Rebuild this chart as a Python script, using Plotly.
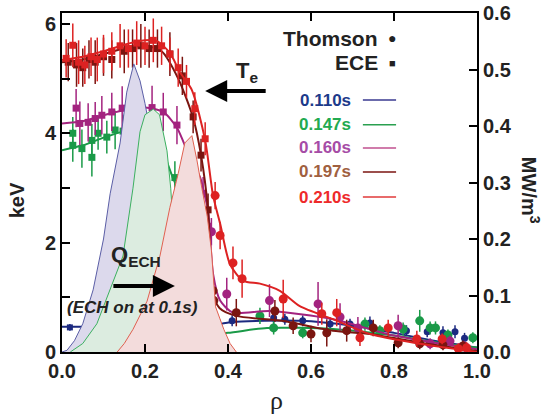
import plotly.graph_objects as go

# ECH power deposition (right axis, MW/m^3)
q110_rho = [0.0, 0.012, 0.03, 0.05, 0.075, 0.10, 0.116, 0.14, 0.156, 0.173, 0.188, 0.20, 0.215, 0.24, 0.27, 0.30, 0.32]
q110_val = [0.0, 0.003, 0.02, 0.05, 0.11, 0.20, 0.28, 0.37, 0.46, 0.51, 0.48, 0.44, 0.38, 0.25, 0.10, 0.02, 0.0]
q147_rho = [0.02, 0.05, 0.084, 0.116, 0.147, 0.171, 0.188, 0.20, 0.22, 0.235, 0.253, 0.262, 0.27, 0.29, 0.31, 0.33]
q147_val = [0.0, 0.015, 0.05, 0.11, 0.17, 0.29, 0.39, 0.42, 0.43, 0.42, 0.356, 0.29, 0.20, 0.10, 0.03, 0.0]
q210_rho = [0.133, 0.15, 0.171, 0.205, 0.236, 0.26, 0.28, 0.296, 0.313, 0.325, 0.337, 0.35, 0.36, 0.365, 0.37, 0.38, 0.39, 0.405, 0.42]
q210_val = [0.0, 0.015, 0.04, 0.09, 0.17, 0.256, 0.316, 0.37, 0.383, 0.34, 0.29, 0.24, 0.18, 0.12, 0.08, 0.06, 0.04, 0.015, 0.0]

# fitted Te profiles (keV)
fit110_rho = [0.0, 0.2, 0.35, 0.41, 0.573, 0.7, 0.8, 0.9, 1.0]
fit110_te = [0.46, 0.46, 0.47, 0.55, 0.57, 0.48, 0.35, 0.2, 0.08]
fit147_rho = [0.0, 0.05, 0.1, 0.15, 0.19, 0.217, 0.236, 0.268, 0.29, 0.303, 0.316, 0.337, 0.345, 0.4, 0.494, 0.653, 0.8, 0.9, 1.0]
fit147_te = [3.69, 3.78, 3.92, 4.04, 4.09, 3.93, 3.78, 3.17, 2.77, 2.35, 1.3, 0.51, 0.33, 0.35, 0.44, 0.42, 0.3, 0.18, 0.08]
fit160_rho = [0.0, 0.05, 0.1, 0.15, 0.2, 0.244, 0.277, 0.308, 0.333, 0.345, 0.352, 0.364, 0.381, 0.412, 0.5, 0.653, 0.8, 1.0]
fit160_te = [4.18, 4.22, 4.33, 4.42, 4.47, 4.39, 4.1, 3.56, 3.19, 2.83, 2.59, 1.43, 0.94, 0.72, 0.75, 0.6, 0.3, 0.05]
fit197_rho = [0.0, 0.05, 0.1, 0.15, 0.2, 0.24, 0.28, 0.316, 0.335, 0.352, 0.364, 0.38, 0.42, 0.53, 0.653, 0.742, 0.863, 1.0]
fit197_te = [5.3, 5.35, 5.45, 5.55, 5.6, 5.5, 5.0, 4.28, 3.6, 2.6, 1.06, 0.8, 0.66, 0.57, 0.39, 0.33, 0.17, 0.02]
fit210_rho = [0.0, 0.05, 0.1, 0.15, 0.2, 0.228, 0.26, 0.284, 0.313, 0.345, 0.364, 0.381, 0.405, 0.437, 0.477, 0.525, 0.573, 0.653, 0.742, 0.863, 1.0]
fit210_te = [5.34, 5.4, 5.5, 5.62, 5.7, 5.69, 5.47, 5.12, 4.79, 3.87, 2.86, 2.35, 1.6, 1.3, 1.25, 1.12, 0.84, 0.6, 0.33, 0.15, 0.0]

# ECE (squares)
ece110_rho = [0.019, 0.06, 0.08, 0.1, 0.12, 0.14, 0.16, 0.183, 0.207, 0.229, 0.253, 0.273, 0.296, 0.325, 0.349]
ece110_te = [0.45, 0.45, 0.47, 0.47, 0.48, 0.47, 0.46, 0.45, 0.45, 0.46, 0.45, 0.46, 0.47, 0.47, 0.47]
ece110_err = [0.06, 0.05, 0.06, 0.06, 0.06, 0.05, 0.06, 0.05, 0.05, 0.05, 0.05, 0.05, 0.06, 0.06, 0.06]
ece147_rho = [0.026, 0.026, 0.048, 0.072, 0.072, 0.087, 0.108, 0.128, 0.147, 0.171, 0.193, 0.217, 0.24, 0.272, 0.308, 0.31]
ece147_te = [4.0, 3.78, 3.72, 3.87, 3.56, 4.0, 3.93, 4.06, 4.04, 4.06, 4.02, 3.93, 3.78, 3.19, 2.35, 2.18]
ece147_err = [0.3, 0.3, 0.35, 0.3, 0.35, 0.3, 0.3, 0.35, 0.3, 0.3, 0.35, 0.3, 0.3, 0.3, 0.25, 0.25]
ece160_rho = [0.034, 0.043, 0.063, 0.08, 0.096, 0.12, 0.145, 0.168, 0.188, 0.217, 0.244, 0.277, 0.313, 0.34, 0.352]
ece160_te = [4.46, 4.18, 4.2, 4.27, 4.33, 4.39, 4.46, 4.44, 4.42, 4.47, 4.39, 4.15, 3.52, 2.9, 2.3]
ece160_err = [0.35, 0.4, 0.35, 0.3, 0.35, 0.35, 0.4, 0.35, 0.35, 0.4, 0.35, 0.35, 0.3, 0.3, 0.25]
ece197_rho = [0.015, 0.035, 0.05, 0.065, 0.08, 0.1, 0.12, 0.15, 0.17, 0.19, 0.21, 0.23, 0.26, 0.29, 0.316, 0.335, 0.352]
ece197_te = [5.3, 5.25, 5.2, 5.35, 5.3, 5.4, 5.35, 5.5, 5.55, 5.6, 5.55, 5.55, 5.45, 5.05, 4.3, 3.6, 2.6]
ece197_err = [0.35, 0.4, 0.35, 0.35, 0.4, 0.35, 0.35, 0.4, 0.35, 0.4, 0.35, 0.35, 0.4, 0.35, 0.3, 0.3, 0.3]
ece210_rho = [0.01, 0.026, 0.04, 0.055, 0.07, 0.085, 0.1, 0.12, 0.14, 0.16, 0.18, 0.2, 0.22, 0.24, 0.26, 0.28, 0.3, 0.32, 0.345]
ece210_te = [5.37, 5.61, 5.3, 5.25, 5.4, 5.35, 5.45, 5.5, 5.6, 5.55, 5.65, 5.6, 5.7, 5.6, 5.45, 5.2, 4.95, 4.45, 3.9]
ece210_err = [0.35, 0.4, 0.4, 0.35, 0.35, 0.4, 0.35, 0.35, 0.4, 0.35, 0.4, 0.35, 0.4, 0.35, 0.3, 0.35, 0.3, 0.3, 0.3]

# Thomson (circles)
ts110_rho = [0.375, 0.41, 0.51, 0.537, 0.58, 0.646, 0.694, 0.742, 0.83, 0.88, 0.918, 0.947, 0.97]
ts110_te = [0.55, 0.57, 0.62, 0.6, 0.57, 0.51, 0.51, 0.53, 0.39, 0.37, 0.35, 0.37, 0.25]
ts110_err = [0.1, 0.1, 0.12, 0.1, 0.1, 0.12, 0.1, 0.12, 0.1, 0.1, 0.12, 0.12, 0.1]
ts147_rho = [0.342, 0.477, 0.51, 0.58, 0.73, 0.766, 0.822, 0.862, 0.887, 0.9, 0.93, 0.99]
ts147_te = [0.51, 0.66, 0.44, 0.35, 0.51, 0.39, 0.42, 0.57, 0.44, 0.44, 0.31, 0.26]
ts147_err = [0.1, 0.15, 0.12, 0.1, 0.12, 0.1, 0.12, 0.2, 0.12, 0.12, 0.1, 0.1]
ts160_rho = [0.36, 0.397, 0.5, 0.617, 0.67, 0.713, 0.81, 0.887, 0.935, 0.97]
ts160_te = [2.2, 1.06, 0.94, 0.88, 0.64, 0.44, 0.48, 0.15, 0.2, 0.1]
ts160_err = [0.25, 0.3, 0.3, 0.4, 0.25, 0.2, 0.2, 0.1, 0.1, 0.1]
ts197_rho = [0.364, 0.366, 0.42, 0.513, 0.557, 0.6, 0.638, 0.686, 0.75, 0.81, 0.862, 0.918, 0.966]
ts197_te = [1.12, 0.94, 0.72, 0.75, 0.48, 0.33, 0.35, 0.39, 0.44, 0.17, 0.15, 0.13, 0.11]
ts197_err = [0.2, 0.2, 0.25, 0.2, 0.15, 0.15, 0.25, 0.2, 0.15, 0.1, 0.1, 0.1, 0.1]
ts210_rho = [0.369, 0.381, 0.412, 0.434, 0.533, 0.626, 0.662, 0.718, 0.786, 0.855, 0.916, 0.955, 0.975]
ts210_te = [2.86, 2.13, 1.63, 1.34, 0.97, 0.7, 0.72, 0.26, 0.44, 0.24, 0.24, 0.06, 0.08]
ts210_err = [0.25, 0.25, 0.3, 0.35, 0.35, 0.2, 0.25, 0.15, 0.15, 0.15, 0.1, 0.1, 0.1]

times = ["0.110s", "0.147s", "0.160s", "0.197s", "0.210s"]
cols = ["#1c2a80", "#1a9a48", "#a3237f", "#7b1510", "#dd2222"]
text_cols = ["#1c3a8a", "#22aa50", "#a64ca6", "#a0603f", "#ee2a2a"]
leg_cols = ["#3a3a90", "#2aa050", "#c0508f", "#7b1510", "#e03a3a"]

fig = go.Figure()

# shaded Q_ECH profiles
for r, q, fc, lc in [(q110_rho, q110_val, "#dcd9ec", "#5b5ea6"),
                     (q147_rho, q147_val, "#dcece0", "#3cb060"),
                     (q210_rho, q210_val, "#f3dcdc", "#e06050")]:
    fig.add_trace(go.Scatter(x=r, y=q, yaxis="y2", mode="lines", fill="tozeroy",
                             fillcolor=fc, line=dict(color=lc, width=1), showlegend=False))

fits = [(fit110_rho, fit110_te), (fit147_rho, fit147_te), (fit160_rho, fit160_te),
        (fit197_rho, fit197_te), (fit210_rho, fit210_te)]
eces = [(ece110_rho, ece110_te, ece110_err), (ece147_rho, ece147_te, ece147_err),
        (ece160_rho, ece160_te, ece160_err), (ece197_rho, ece197_te, ece197_err),
        (ece210_rho, ece210_te, ece210_err)]
tss = [(ts110_rho, ts110_te, ts110_err), (ts147_rho, ts147_te, ts147_err),
       (ts160_rho, ts160_te, ts160_err), (ts197_rho, ts197_te, ts197_err),
       (ts210_rho, ts210_te, ts210_err)]

for i in range(5):
    c = cols[i]
    er, et, ee = eces[i]
    tr, tt, te = tss[i]
    msz = 6 if i == 0 else 7
    fig.add_trace(go.Scatter(x=er, y=et, mode="markers", showlegend=False,
                             marker=dict(symbol="square", size=msz, color=c),
                             error_y=dict(type="data", array=ee, color=c, thickness=1.5, width=0)))
    fig.add_trace(go.Scatter(x=tr, y=tt, mode="markers", showlegend=False,
                             marker=dict(symbol="circle", size=9 if i else 7, color=c),
                             error_y=dict(type="data", array=te, color=c, thickness=1.5, width=0)))
    fr, ft = fits[i]
    fig.add_trace(go.Scatter(x=fr, y=ft, mode="lines", showlegend=False,
                             line=dict(color=c, width=2, shape="spline", smoothing=0.7)))

bold = "Liberation Sans, Arial, sans-serif"
ax_common = dict(showline=True, linecolor="black", linewidth=2, ticks="inside",
                 tickcolor="black", tickwidth=1.5, ticklen=8, showgrid=False, zeroline=False,
                 automargin=False, ticklabeloverflow="allow",
                 tickfont=dict(family=bold, size=20, color="#222"))

fig.update_layout(
    width=546, height=415,
    margin=dict(l=62, r=69, t=13, b=63, autoexpand=False),
    plot_bgcolor="white", paper_bgcolor="white",
    showlegend=False,
    xaxis=dict(range=[0, 1], tickvals=[0, 0.2, 0.4, 0.6, 0.8, 1.0],
               ticktext=["<b>0.0</b>", "<b>0.2</b>", "<b>0.4</b>", "<b>0.6</b>", "<b>0.8</b>", "<b>1.0</b>"],
               mirror="ticks", **ax_common),
    yaxis=dict(range=[0, 6.2], tickvals=[0, 2, 4, 6],
               ticktext=["<b>0</b>", "<b>2</b>", "<b>4</b>", "<b>6</b>"],
               minor=dict(dtick=1, ticks="inside", ticklen=8, tickcolor="black", tickwidth=1.5),
               **ax_common),
    yaxis2=dict(range=[0, 0.6001], overlaying="y", side="right",
                tickvals=[0, 0.1, 0.2, 0.3, 0.4, 0.5, 0.6],
                ticktext=["<b>0.0</b>", "<b>0.1</b>", "<b>0.2</b>", "<b>0.3</b>", "<b>0.4</b>", "<b>0.5</b>", "<b>0.6</b>"],
                **ax_common),
)

ann = []
def label(x, y, text, size, color="#222", xanchor="center", angle=0, family=bold):
    ann.append(dict(xref="paper", yref="paper", x=x, y=y, text=text, showarrow=False,
                    xanchor=xanchor, yanchor="middle", textangle=angle,
                    font=dict(family=family, size=size, color=color)))

label(-0.108, 0.448, "<b>keV</b>", 20, angle=-90)
label(1.128, 0.478, "<b>MW/m<sup>3</sup></b>", 20, angle=90)
label(0.518, -0.142, "ρ", 26, family="Liberation Serif, Times New Roman, serif")
label(0.766, 0.926, "<b>Thomson</b>", 21, xanchor="right")
label(0.766, 0.853, "<b>ECE</b>", 21, xanchor="right")
label(0.796, 0.926, "●", 14)
label(0.796, 0.853, "■", 11)
leg_y = [0.743, 0.670, 0.602, 0.531, 0.457]
shapes = []
for t, tc, lc, yy in zip(times, text_cols, leg_cols, leg_y):
    label(0.701, yy, "<b>%s</b>" % t, 17, color=tc, xanchor="right")
    shapes.append(dict(type="line", xref="paper", yref="paper", x0=0.725, x1=0.805,
                       y0=yy, y1=yy, line=dict(color=lc, width=1.5)))

label(0.446, 0.825, "<b>T<sub>e</sub></b>", 22)
label(0.178, 0.283, "<b>Q<sub>ECH</sub></b>", 22)
label(0.169, 0.130, "<b><i>(ECH on at 0.1s)</i></b>", 17)

# arrows
ann.append(dict(xref="paper", yref="paper", x=0.345, y=0.770, ax=62, ay=0, text="",
                showarrow=True, arrowhead=2, arrowsize=1.1, arrowwidth=4, arrowcolor="black"))
ann.append(dict(xref="paper", yref="paper", x=0.272, y=0.195, ax=-63, ay=0, text="",
                showarrow=True, arrowhead=2, arrowsize=1.1, arrowwidth=4, arrowcolor="black"))

fig.update_layout(annotations=ann, shapes=shapes)

# drop the default 8px page margin so the figure fills the window exactly
fig.write_html("out.html", config={"displayModeBar": False},
               post_script="document.body.style.margin='0';")
